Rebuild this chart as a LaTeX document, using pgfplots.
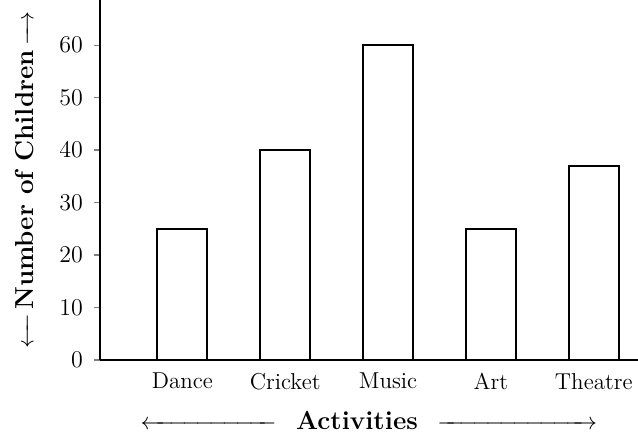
\documentclass[border=0pt]{standalone}
\usepackage{pgfplots}
\pgfplotsset{compat=1.18}
\begin{document}
\begin{tikzpicture}
\begin{axis}[
  scale only axis,
  width=269pt, height=180pt,
  axis x line=bottom, axis y line=left,
  axis line style={-, line width=0.7pt},
  xmin=-0.8, xmax=4.43,
  ymin=0, ymax=68.6,
  ytick={0,10,20,30,40,50,60},
  xtick=data,
  xticklabels={Dance,Cricket,Music,Art,Theatre},
  x tick style={draw=none},
  y tick style={line width=0.6pt},
  tick align=outside,
  major tick length=3pt,
  tick label style={font=\fontsize{11.5}{13}\selectfont},
  yticklabel style={xshift=-2pt},
  ylabel={\hbox to 17pt{\leftarrowfill}\,Number of Children\,\hbox to 17pt{\rightarrowfill}},
  ylabel style={font=\fontsize{13}{15}\selectfont\bfseries},
  ylabel shift=6pt,
  xlabel={\hbox to 68pt{\leftarrowfill}\ \ Activities\ \ \hbox to 80pt{\rightarrowfill}},
  xlabel style={font=\fontsize{13}{15}\selectfont\bfseries},
  xlabel shift=4pt,
  clip=false,
]
\addplot[ybar, bar width=25pt, fill=white, draw=black, line width=0.9pt]
  coordinates {(0,25) (1,40) (2,60) (3,25) (4,37)};
\end{axis}
\pgfresetboundingbox
\path (current axis.south west) ++(-50pt,-38.5pt) coordinate (bl);
\path (current axis.north east) coordinate (tr);
\path (bl) rectangle (tr);
\end{tikzpicture}
\end{document}
